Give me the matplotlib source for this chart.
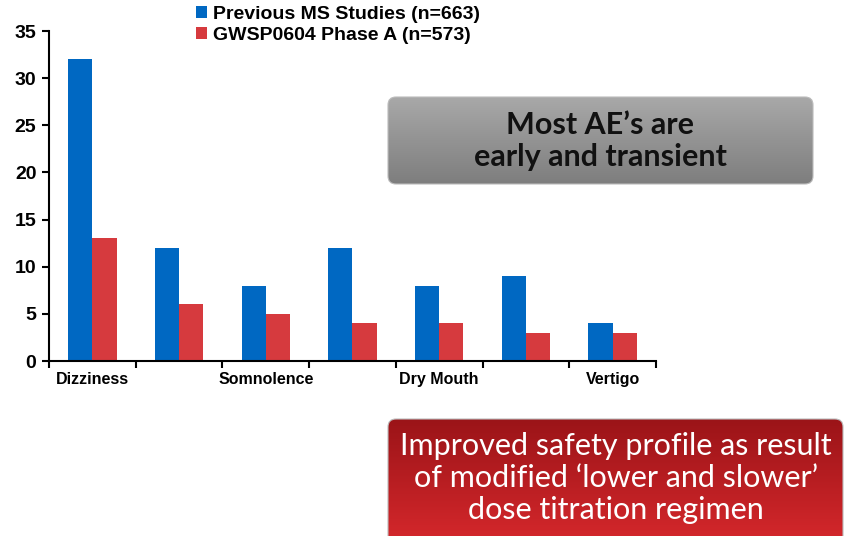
import matplotlib.pyplot as plt
import numpy as np
from matplotlib.patches import FancyBboxPatch
from matplotlib.colors import LinearSegmentedColormap

# veriler
categories = ["Dizziness", "", "Somnolence", "", "Dry Mouth", "", "Vertigo"]
previous_ms = [32, 12, 8, 12, 8, 9, 4]
gwsp_phase_a = [13, 6, 5, 4, 4, 3, 3]
series_labels = ["Previous MS Studies (n=663)", "GWSP0604 Phase A (n=573)"]
y_ticks = [0, 5, 10, 15, 20, 25, 30, 35]

BLUE = "#0068C2"
RED = "#D63A3E"

plt.rcParams["font.family"] = ["Liberation Sans", "DejaVu Sans"]

fig = plt.figure(figsize=(8.45, 5.36), dpi=100)
ax = fig.add_axes([49 / 845, 1 - 361 / 536, (656 - 49) / 845, (361 - 31) / 536])

x = np.arange(len(categories))
w = 0.28
b1 = ax.bar(x - w / 2, previous_ms, w, color=BLUE, label=series_labels[0])
b2 = ax.bar(x + w / 2, gwsp_phase_a, w, color=RED, label=series_labels[1])

ax.set_xlim(-0.5, len(categories) - 0.5)
ax.set_ylim(0, 35)
ax.set_yticks(y_ticks)
ax.set_yticklabels([str(t) for t in y_ticks], fontsize=14, fontweight="bold")
ax.set_xticks(x)
ax.set_xticklabels(categories, fontsize=11.5, fontweight="bold")
ax.tick_params(axis="x", length=0, pad=8)
ax.set_xticks(np.arange(len(categories) + 1) - 0.5, minor=True)
ax.tick_params(axis="x", which="minor", length=5, width=1.5, direction="out")
ax.tick_params(axis="y", length=5, width=1.5, direction="out", pad=4)
for s in ["top", "right"]:
    ax.spines[s].set_visible(False)
ax.spines["left"].set_linewidth(1.5)
ax.spines["bottom"].set_linewidth(1.5)

fig.legend(handles=[b1, b2], labels=series_labels, loc="upper left",
           bbox_to_anchor=(196 / 845, 1 - 6 / 536), frameon=False,
           prop={"weight": "bold", "size": 14}, handlelength=0.55,
           handleheight=0.55, handletextpad=0.3, labelspacing=0.2,
           borderaxespad=0, borderpad=0)

# kutular icin piksel koordinatli ust katman
ov = fig.add_axes([0, 0, 1, 1], zorder=5)
ov.set_xlim(0, 845)
ov.set_ylim(536, 0)
ov.axis("off")


def grad_box(x0, y0, x1, y1, c_top, c_bot):
    patch = FancyBboxPatch((x0, y0), x1 - x0, y1 - y0,
                           boxstyle="round,pad=0,rounding_size=8",
                           facecolor="none", edgecolor="#bbbbbb", lw=0.8)
    ov.add_patch(patch)
    cmap = LinearSegmentedColormap.from_list("g", [c_top, c_bot])
    grad = np.linspace(0, 1, 100).reshape(-1, 1)
    im = ov.imshow(grad, extent=[x0, x1, y1, y0], cmap=cmap, aspect="auto")
    im.set_clip_path(patch)


grad_box(388, 97, 813, 184, "#a8a8a8", "#7e7e7e")
ov.text(600, 141, "Most AE\u2019s are\nearly and transient", ha="center", va="center",
        fontsize=22, fontweight="bold", family=["Lato", "DejaVu Sans"],
        color="#111111", linespacing=1.16)

grad_box(388, 419, 843, 545, "#9b1418", "#d6282c")
ov.text(616, 478, "Improved safety profile as result\nof modified \u2018lower and slower\u2019\ndose titration regimen",
        ha="center", va="center", fontsize=22, family=["Lato", "DejaVu Sans"],
        color="white", linespacing=1.17)
ov.set_xlim(0, 845)
ov.set_ylim(536, 0)

fig.savefig("out.png", dpi=100)
